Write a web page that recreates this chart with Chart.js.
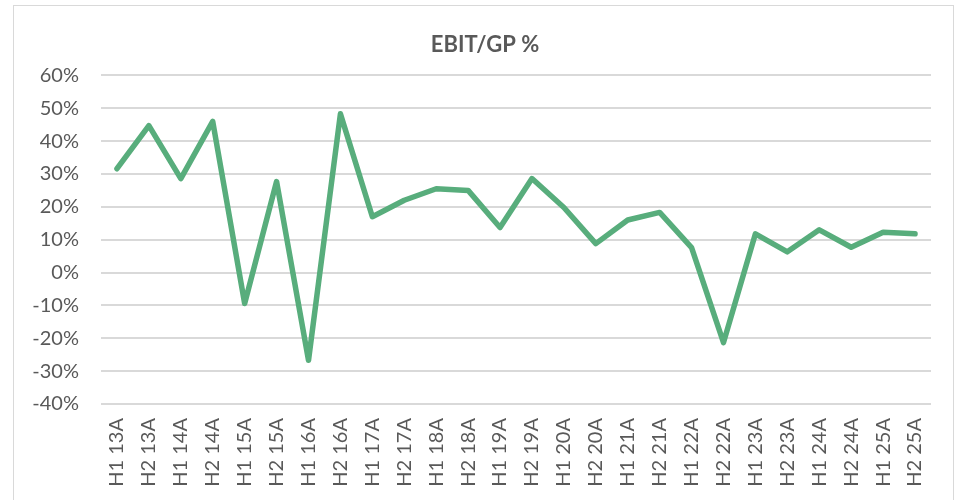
<!DOCTYPE html>
<html>
<head>
<meta charset="utf-8">
<script src="https://cdn.jsdelivr.net/npm/chart.js@4/dist/chart.umd.min.js"></script>
<style>
  html, body { margin: 0; padding: 0; background: #fff; }
  #wrap { position: relative; width: 957px; height: 500px; overflow: hidden; }
  #frame { position: absolute; left: 13px; top: 5px; width: 941px; height: 520px; border: 1px solid #d9d9d9; box-sizing: border-box; }
  canvas { position: absolute; left: 0; top: 0; }
</style>
</head>
<body>
<div id="wrap">
  <div id="frame"></div>
  <canvas id="chart" width="957" height="500"></canvas>
</div>
<script>
// half-year periods
const periods = [
  'H1 13A', 'H2 13A', 'H1 14A', 'H2 14A', 'H1 15A', 'H2 15A', 'H1 16A', 'H2 16A',
  'H1 17A', 'H2 17A', 'H1 18A', 'H2 18A', 'H1 19A', 'H2 19A', 'H1 20A', 'H2 20A',
  'H1 21A', 'H2 21A', 'H1 22A', 'H2 22A', 'H1 23A', 'H2 23A', 'H1 24A', 'H2 24A',
  'H1 25A', 'H2 25A'
];

// EBIT / GP in percent
const ebitGp = [
  31.6, 44.7, 28.6, 46.0, -9.4, 27.7, -26.7, 48.3,
  17.0, 22.0, 25.5, 25.0, 13.7, 28.6, 19.8, 8.8,
  16.0, 18.3, 7.6, -21.3, 11.8, 6.3, 13.0, 7.7,
  12.3, 11.8
];

const yMin = -40;
const yMax = 60;
const yStep = 10;

const grey = '#595959';
const gridGrey = '#d9d9d9';
const lineGreen = '#58ad7c';

const ctx = document.getElementById('chart').getContext('2d');
new Chart(ctx, {
  type: 'line',
  data: {
    labels: periods,
    datasets: [{
      label: 'EBIT/GP %',
      data: ebitGp,
      borderColor: lineGreen,
      backgroundColor: lineGreen,
      borderWidth: 5.5,
      borderCapStyle: 'round',
      borderJoinStyle: 'round',
      pointRadius: 0,
      tension: 0,
      fill: false
    }]
  },
  options: {
    responsive: false,
    animation: false,
    layout: { padding: { left: 13, right: 0, top: 0, bottom: 0 } },
    plugins: {
      legend: { display: false },
      tooltip: { enabled: false },
      title: {
        display: true,
        text: 'EBIT/GP %',
        color: grey,
        font: { family: 'Lato', size: 22, weight: 'bold' },
        padding: { top: 32, bottom: 17 }
      }
    },
    scales: {
      x: {
        offset: true,
        grid: { display: false, drawTicks: false },
        border: { display: false },
        ticks: {
          autoSkip: false,
          maxRotation: 90,
          minRotation: 90,
          padding: 14,
          color: grey,
          font: { family: 'Lato', size: 20 }
        },
        afterFit: (scale) => { scale.height = 96; }
      },
      y: {
        min: yMin,
        max: yMax,
        grid: { color: gridGrey, lineWidth: 2, drawTicks: false },
        border: { display: false },
        ticks: {
          stepSize: yStep,
          padding: 22,
          color: grey,
          font: { family: 'Lato', size: 20 },
          callback: (v) => v + '%'
        },
        afterFit: (scale) => { scale.width = 88; }
      },
      // empty right-hand spacer so the title centres on the whole frame
      spacer: {
        type: 'linear',
        position: 'right',
        min: yMin,
        max: yMax,
        grid: { display: false, drawTicks: false },
        border: { display: false },
        ticks: { display: false },
        afterFit: (scale) => { scale.width = 26; }
      }
    }
  }
});
</script>
</body>
</html>
